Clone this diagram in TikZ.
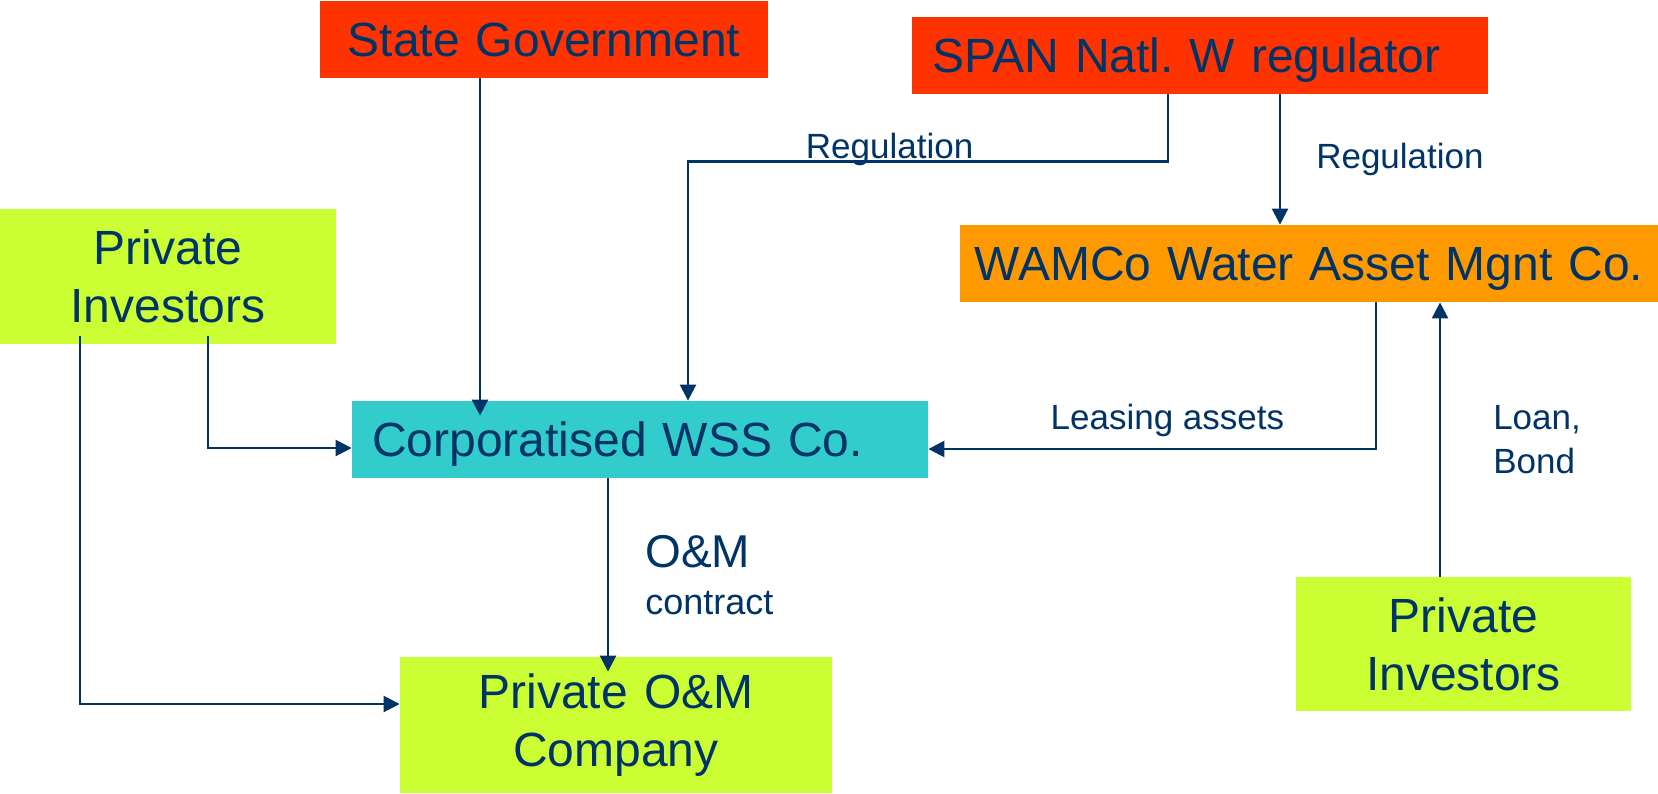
\documentclass[tikz,border=0pt]{standalone}
\usepackage{fontspec}
\setmainfont{Liberation Sans}
\usetikzlibrary{arrows.meta}

\definecolor{navy}{RGB}{0,51,102}
\definecolor{govred}{RGB}{255,51,0}
\definecolor{wamcoorange}{RGB}{255,153,0}
\definecolor{wssteal}{RGB}{51,204,204}
\definecolor{investgreen}{RGB}{204,255,51}

\begin{document}
\frenchspacing
\begin{tikzpicture}[x=0.5pt,y=-0.5pt,
        every node/.style={text=navy},
        box/.style={inner xsep=10pt, inner ysep=0pt, font=\fontsize{24}{29}\selectfont},
        oneline/.style={box, text height=17.2pt, text depth=0pt, minimum height=38.5pt},
        link/.style={draw=navy, line width=1.25pt, -{Triangle[length=8pt,width=8pt]}},
        lbl/.style={inner sep=1pt, font=\fontsize{17.5}{22}\selectfont}]
        \useasboundingbox (0,0) rectangle (1658,793);

        \node[oneline, fill=govred, text width=204pt, align=center] (gov) at (544,39.5) {State Government};
        \node[oneline, fill=govred, text width=268pt, align=left] (span) at (1200,55.5) {SPAN Natl. W regulator};
        \node[oneline, fill=wamcoorange, inner xsep=4pt, text width=341pt, align=center] (wamco) at (1309,263.5) {WAMCo Water Asset Mgnt Co.};
        \node[oneline, fill=wssteal, text width=268pt, align=left] (wss) at (640,439.5) {Corporatised WSS Co.};
        \node[box, fill=investgreen, text width=148pt, minimum height=67.5pt, align=center] (invl) at (168,276.5) {Private\\Investors};
        \node[box, fill=investgreen, text width=147.5pt, minimum height=67pt, align=center] (invr) at (1463.5,644) {Private\\Investors};
        \node[box, fill=investgreen, text width=196pt, minimum height=68pt, align=center] (om) at (616,725) {Private O\&M\\Company};

        \draw[link, shorten >=-7.5pt] ([xshift=-32pt]gov.south) -- ([xshift=-32pt]gov.south |- wss.north);
        \draw[link] ([xshift=-16pt]span.south) -- ++(0,67) -| node[lbl, pos=0.29, anchor=base, yshift=1.5pt] {Regulation} ([xshift=24pt]wss.north);
        \draw[link] ([xshift=40pt]span.south) -- ([xshift=40pt]span.south |- wamco.north) node[lbl, midway, right=16.5pt] {Regulation};
        \draw[link] ([xshift=33.5pt]wamco.south) |- node[lbl, pos=0.733, anchor=base, yshift=10pt] {Leasing assets} ([yshift=-4.75pt]wss.east);
        \draw[link] ([xshift=-11.75pt]invr.north) -- ([xshift=-11.75pt]invr.north |- wamco.south) node[lbl, midway, right=25pt, align=left] {Loan,\\Bond};
        \draw[link, shorten <=-4pt] ([xshift=20pt]invl.south) |- ([yshift=-4.25pt]wss.west);
        \draw[link, shorten <=-4pt] ([xshift=-44pt]invl.south) |- ([yshift=10.5pt]om.west);
        \draw[link, shorten >=-7.5pt] ([xshift=-16pt]wss.south) -- ([xshift=-16pt]wss.south |- om.north) node[lbl, midway, right=17pt, yshift=-4pt, align=left, font=\fontsize{18}{23.5}\selectfont] {{\fontsize{23}{23.5}\selectfont O\&M}\\contract};

    \end{tikzpicture}
\end{document}
